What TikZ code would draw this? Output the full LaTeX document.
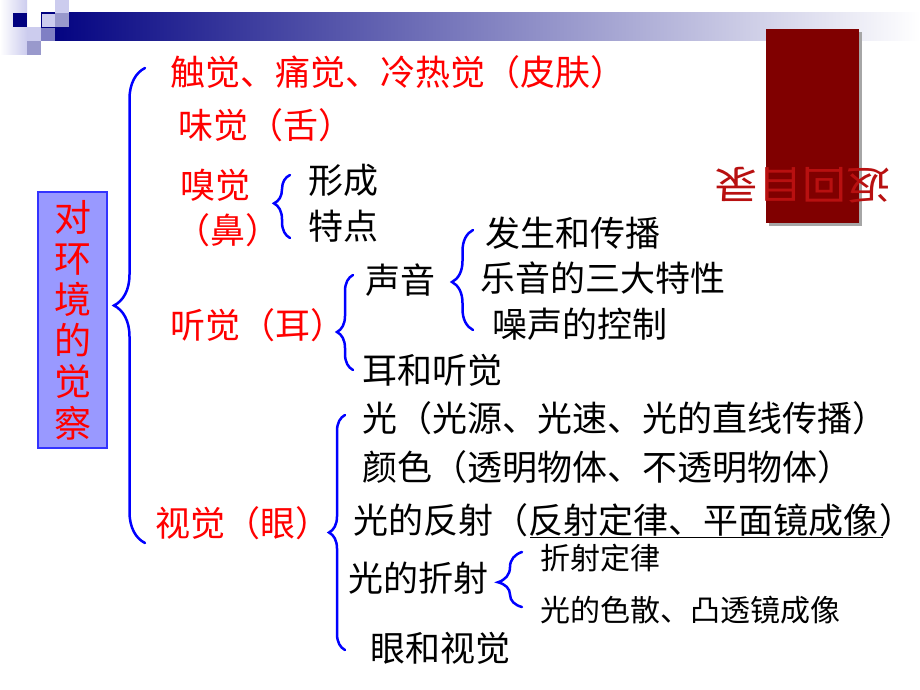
\documentclass[tikz,border=0pt]{standalone}
\usepackage{fontspec}
\setmainfont{Noto Sans CJK SC}
\usetikzlibrary{decorations.pathreplacing,calc}
\definecolor{navy}{HTML}{000080}
\definecolor{sqlight}{HTML}{CCCCEE}
\definecolor{sqmid}{HTML}{9999CC}
\definecolor{sqmid2}{HTML}{8080C4}
\definecolor{darkred}{HTML}{800000}
\definecolor{wacolor}{HTML}{B81010}
\definecolor{boxfill}{HTML}{9999FF}
\definecolor{boxline}{HTML}{3333FF}
\begin{document}
\begin{tikzpicture}[x=1pt,y=-1pt,
  lbl/.style={anchor=west, inner sep=0pt, font=\fontsize{35}{35}\selectfont},
  redlbl/.style={lbl, text=red},
  blk/.style={lbl, text=black},
  sml/.style={anchor=west, inner sep=0pt, text=black, font=\fontsize{30}{30}\selectfont},
  curly/.style={draw=blue, line width=2.5pt, line cap=round, decorate, decoration={brace, amplitude=#1}},
  wordart/.style={inner sep=0pt, rotate=180, yscale=0.9, font=\fontsize{44}{44}\selectfont}
]
\useasboundingbox (0,0) rectangle (920,690);
\fill[white] (0,0) rectangle (920,690);
% header decoration
\shade[left color=white, right color=sqlight] (0,0) rectangle (27,55);
\shade[left color=navy, right color=white] (41,13) rectangle (920,41);
\fill[navy] (13,13) rectangle (27,27);
\fill[sqlight] (27,27) rectangle (41,41);
\fill[sqmid] (27,41) rectangle (41,55);
\fill[sqmid2] (41,27) rectangle (55,41);
\filldraw[fill=sqlight, draw=navy, line width=0.8pt] (41,13) rectangle (55,27);
\fill[sqlight] (55,0) rectangle (69,13);
\fill[sqmid] (55,13) rectangle (69,27);
% dark red box
\fill[gray!70] (769,32) rectangle (862,226);
\fill[darkred] (766,29) rectangle (859,223);
\node[wordart, text=wacolor] (wa) at (802,185) {返回目录};
% main box
\node[draw=boxline, fill=boxfill, line width=1.2pt, minimum width=69pt, minimum height=256pt, inner sep=0pt,
  text=red, align=center, font=\fontsize{37}{41.2}\selectfont] (box) at (72.5,320) {对\\环\\境\\的\\觉\\察};
% braces
\coordinate (b0s) at (145,543); \coordinate (b0e) at (145,68);
\draw[curly=31] (b0s) -- (b0e);
\coordinate (b1s) at (290,238); \coordinate (b1e) at (290,175);
\draw[curly=16, decoration={aspect=0.55}] (b1s) -- (b1e);
\coordinate (b2s) at (353,370); \coordinate (b2e) at (353,275);
\draw[curly=16, decoration={aspect=0.4}] (b2s) -- (b2e);
\coordinate (b3s) at (473,330); \coordinate (b3e) at (473,230);
\draw[curly=21, decoration={aspect=0.48}] (b3s) -- (b3e);
\coordinate (b4s) at (345,650); \coordinate (b4e) at (345,415);
\draw[curly=16, decoration={aspect=0.5}] (b4s) -- (b4e);
\coordinate (b5s) at (522,607); \coordinate (b5e) at (522,552);
\draw[curly=24, decoration={aspect=0.45}] (b5s) -- (b5e);
% red labels
\node[redlbl] (touch) at (170,72) {触觉、痛觉、冷热觉（皮肤）};
\node[redlbl] (taste) at (178,125) {味觉（舌）};
\node[redlbl] (smell) at (180,185) {嗅觉};
\node[redlbl] (nose) at (175,230) {（鼻）};
\node[redlbl] (hear) at (170,325) {听觉（耳）};
\node[redlbl] (see) at (155,523) {视觉（眼）};
% black labels
\node[blk] (form) at (308,180) {形成};
\node[blk] (feat) at (308,226) {特点};
\node[blk] (sound) at (365,280) {声音};
\node[blk] (earh) at (362,370) {耳和听觉};
\node[blk] (gen) at (485,233) {发生和传播};
\node[blk] (music) at (480,278) {乐音的三大特性};
\node[blk] (noise) at (492,324) {噪声的控制};
\node[blk] (light) at (362,418) {光（光源、光速、光的直线传播）};
\node[blk] (color) at (362,467) {颜色（透明物体、不透明物体）};
\node[blk] (refl) at (353,520) {光的反射（};
\node[blk, anchor=base west] (reflu) at (refl.base east) {反射定律、平面镜成像};
\node[blk, anchor=base west] (reflc) at (reflu.base east) {）};
\draw[line width=1.5pt] ($(reflu.base west)+(2,4)$) -- ($(reflu.base east)+(4,4)$);
\node[blk] (refr) at (348,578) {光的折射};
\node[blk] (eyes) at (370,648) {眼和视觉};
\node[sml] (rlaw) at (540,558) {折射定律};
\node[sml] (disp) at (540,610) {光的色散、凸透镜成像};
\end{tikzpicture}
\end{document}
